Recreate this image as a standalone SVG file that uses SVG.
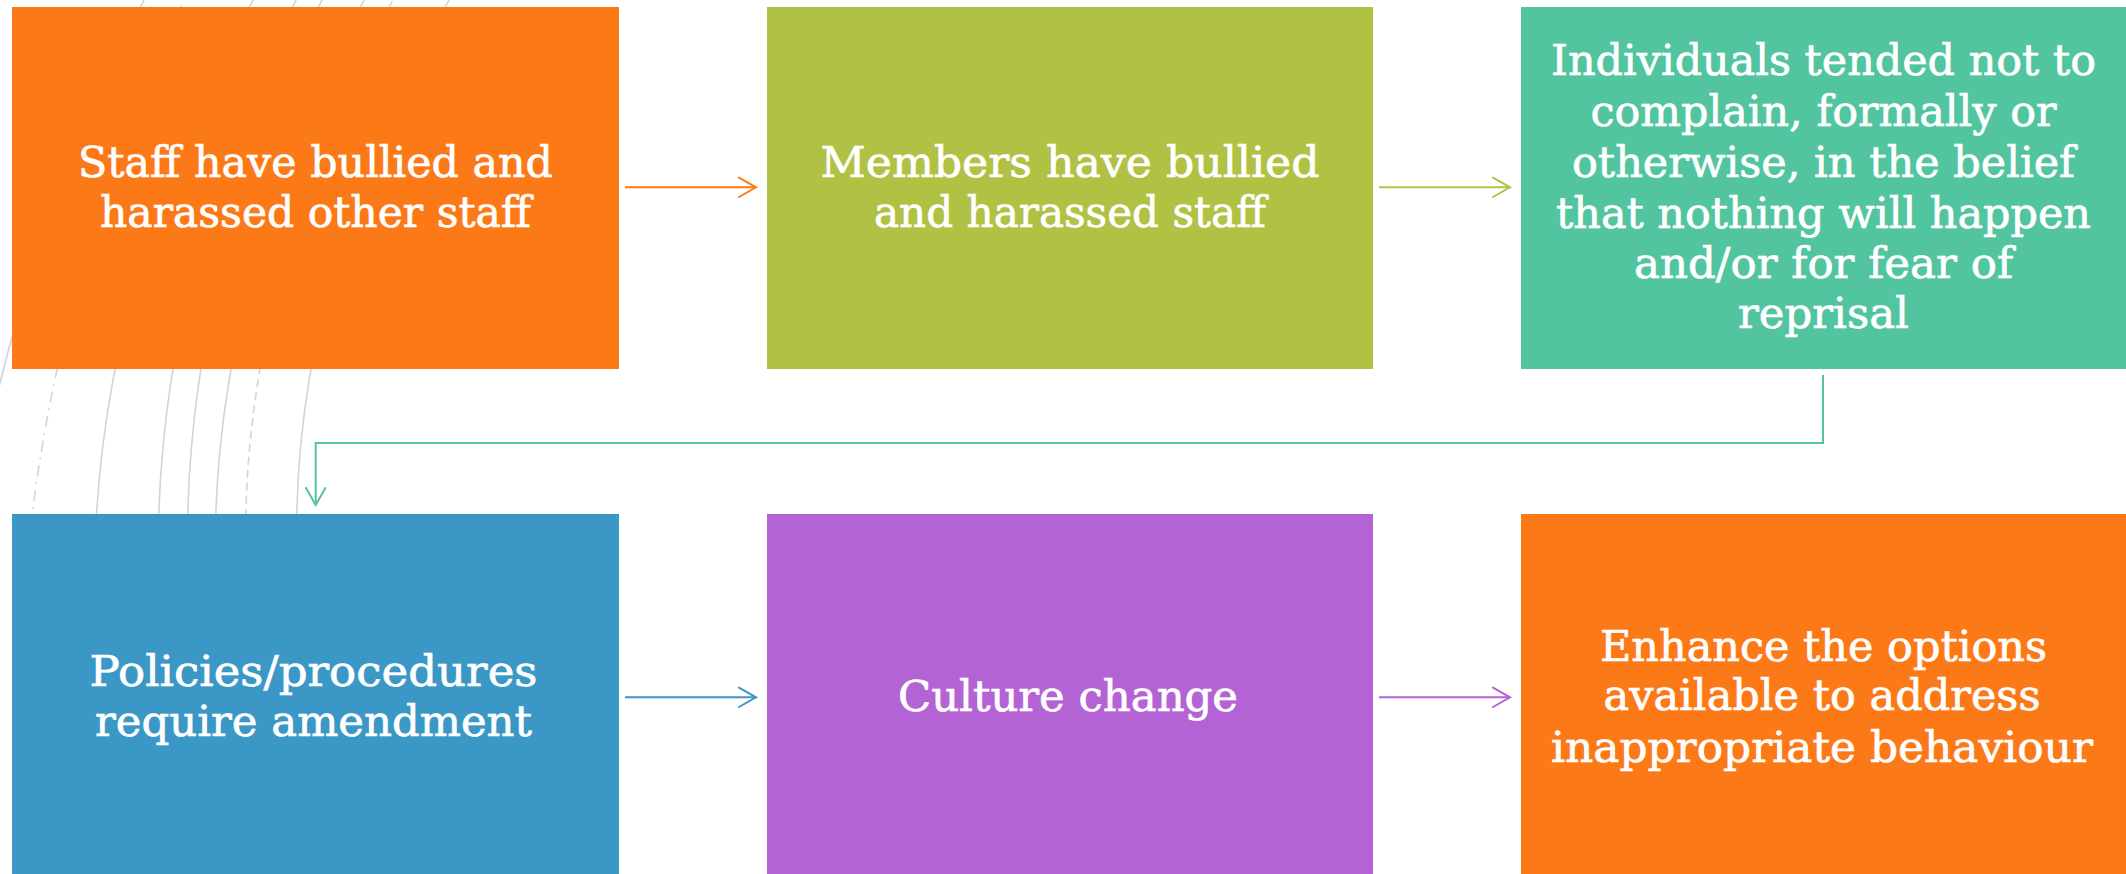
<svg xmlns="http://www.w3.org/2000/svg" width="2126" height="874" viewBox="0 0 2126 874">
<style>
.bg{fill:#ffffff}
.deco{fill:none;stroke:#d3d3d3;stroke-width:1.6}
.dashdot{stroke-dasharray:11 6 2 6}
.dashed{stroke-dasharray:8 5}
.lbl{font-family:"DejaVu Serif","Liberation Serif",serif;font-size:43.5px;fill:#ffffff;stroke:#ffffff;stroke-width:0.7;text-anchor:middle}
.conn{fill:none;stroke-width:2}
.head{fill:none;stroke-width:2;stroke-linecap:round;stroke-linejoin:miter}
</style>
<defs>
<marker id="mOrange" markerUnits="userSpaceOnUse" markerWidth="22" markerHeight="24" refX="18" refY="11" orient="auto"><path class="head" stroke="#fc7918" d="M1,1.3 L18,11 L1,20.7"/></marker>
<marker id="mGreen" markerUnits="userSpaceOnUse" markerWidth="22" markerHeight="24" refX="18" refY="11" orient="auto"><path class="head" stroke="#b1c144" d="M1,1.3 L18,11 L1,20.7"/></marker>
<marker id="mTeal" markerUnits="userSpaceOnUse" markerWidth="22" markerHeight="24" refX="18" refY="11" orient="auto"><path class="head" stroke="#52c5a0" d="M1,1.3 L18,11 L1,20.7"/></marker>
<marker id="mBlue" markerUnits="userSpaceOnUse" markerWidth="22" markerHeight="24" refX="18" refY="11" orient="auto"><path class="head" stroke="#3b97c5" d="M1,1.3 L18,11 L1,20.7"/></marker>
<marker id="mPurple" markerUnits="userSpaceOnUse" markerWidth="22" markerHeight="24" refX="18" refY="11" orient="auto"><path class="head" stroke="#b463d5" d="M1,1.3 L18,11 L1,20.7"/></marker>
</defs>
<rect class="bg" x="0" y="0" width="2126" height="874"/>
<g id="decoration">
<path class="deco" d="M149.1,-10 Q14.1,252 -25.9,514"/>
<path class="deco dashdot" d="M188.6,-10 Q64.9,252 32.2,514"/>
<path class="deco" d="M258.7,-10 Q111.9,252 96.6,514"/>
<path class="deco" d="M301.1,-10 Q167,252 158.8,514"/>
<path class="deco" d="M327,-10 Q193.9,252 187.8,514"/>
<path class="deco" d="M369.6,-10 Q224.5,252 215.8,514"/>
<path class="deco dashed" d="M398.7,-10 Q252,252 245.8,514"/>
<path class="deco" d="M454.9,-10 Q302,252 296.8,514"/>
</g>
<g id="node1">
<rect x="12" y="7" width="607" height="362" fill="#fc7918"/>
<text class="lbl"><tspan x="315.5" y="176.7" textLength="475" lengthAdjust="spacingAndGlyphs">Staff have bullied and</tspan><tspan x="315.5" y="226.7" textLength="431" lengthAdjust="spacingAndGlyphs">harassed other staff</tspan></text>
</g>
<g id="node2">
<rect x="767" y="7" width="606" height="362" fill="#b1c144"/>
<text class="lbl"><tspan x="1070" y="176.7" textLength="499" lengthAdjust="spacingAndGlyphs">Members have bullied</tspan><tspan x="1070" y="226.5" textLength="392" lengthAdjust="spacingAndGlyphs">and harassed staff</tspan></text>
</g>
<g id="node3">
<rect x="1521" y="7" width="605" height="362" fill="#52c5a0"/>
<text class="lbl"><tspan x="1823.5" y="75" textLength="545" lengthAdjust="spacingAndGlyphs">Individuals tended not to</tspan><tspan x="1823.5" y="126" textLength="466" lengthAdjust="spacingAndGlyphs">complain, formally or</tspan><tspan x="1823.5" y="176.7" textLength="503" lengthAdjust="spacingAndGlyphs">otherwise, in the belief</tspan><tspan x="1823.5" y="227.7" textLength="535" lengthAdjust="spacingAndGlyphs">that nothing will happen</tspan><tspan x="1823.5" y="278.3" textLength="379" lengthAdjust="spacingAndGlyphs">and/or for fear of</tspan><tspan x="1823.5" y="328.3" textLength="171" lengthAdjust="spacingAndGlyphs">reprisal</tspan></text>
</g>
<g id="node4">
<rect x="12" y="514" width="607" height="370" fill="#3b97c5"/>
<text class="lbl"><tspan x="313.5" y="685.7" textLength="448" lengthAdjust="spacingAndGlyphs">Policies/procedures</tspan><tspan x="313.5" y="736" textLength="437" lengthAdjust="spacingAndGlyphs">require amendment</tspan></text>
</g>
<g id="node5">
<rect x="767" y="514" width="606" height="370" fill="#b463d5"/>
<text class="lbl"><tspan x="1068" y="711" textLength="340" lengthAdjust="spacingAndGlyphs">Culture change</tspan></text>
</g>
<g id="node6">
<rect x="1521" y="514" width="605" height="370" fill="#fc7918"/>
<text class="lbl"><tspan x="1823.5" y="660.7" textLength="447" lengthAdjust="spacingAndGlyphs">Enhance the options</tspan><tspan x="1822" y="710" textLength="437" lengthAdjust="spacingAndGlyphs">available to address</tspan><tspan x="1822" y="761.7" textLength="542" lengthAdjust="spacingAndGlyphs">inappropriate behaviour</tspan></text>
</g>
<g id="connectors">
<path class="conn" stroke="#fc7918" d="M625,187.3 H756" marker-end="url(#mOrange)"/>
<path class="conn" stroke="#b1c144" d="M1379,187.3 H1510" marker-end="url(#mGreen)"/>
<path class="conn" stroke="#52c5a0" d="M1823,375 V443 H315.7 V505" marker-end="url(#mTeal)"/>
<path class="conn" stroke="#3b97c5" d="M625,697.3 H756" marker-end="url(#mBlue)"/>
<path class="conn" stroke="#b463d5" d="M1379,697.3 H1510" marker-end="url(#mPurple)"/>
</g>
</svg>
